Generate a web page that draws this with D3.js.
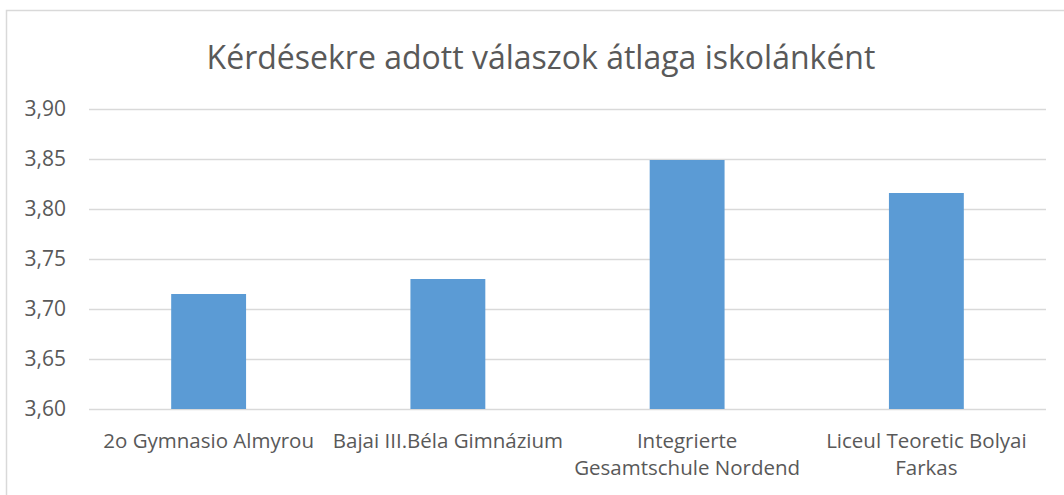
<!DOCTYPE html>
<html>
<head>
<meta charset="utf-8">
<script src="https://cdn.jsdelivr.net/npm/d3@7"></script>
<style>
  body { margin: 0; background: #fff; }
  text { font-family: "Open Sans", sans-serif; fill: #595959; }
</style>
</head>
<body>
<div id="chart"></div>
<script>
// data
let schools = ["2o Gymnasio Almyrou", "Bajai III.Béla Gimnázium", "Integrierte Gesamtschule Nordend", "Liceul Teoretic Bolyai Farkas"];
let schoolLines = [["2o Gymnasio Almyrou"], ["Bajai III.Béla Gimnázium"], ["Integrierte", "Gesamtschule Nordend"], ["Liceul Teoretic Bolyai", "Farkas"]];
let averages = [3.715, 3.730, 3.849, 3.816];
let yTicks = [3.60, 3.65, 3.70, 3.75, 3.80, 3.85, 3.90];
let title = "Kérdésekre adott válaszok átlaga iskolánként";

// dimensions
let W = 1064, H = 495;
let margin = {top: 109, right: 18, bottom: 86, left: 89},
    width = W - margin.left - margin.right,
    height = H - margin.top - margin.bottom;

let svg = d3.select("#chart")
    .append("svg")
    .attr("width", W)
    .attr("height", H);

// chart area border
svg.append("rect")
    .attr("x", 6.5)
    .attr("y", 10.5)
    .attr("width", 1100)
    .attr("height", 600)
    .attr("fill", "none")
    .attr("stroke", "#d9d9d9")
    .attr("stroke-width", 1.5);

svg.append("text")
    .attr("x", 541)
    .attr("y", 69)
    .attr("text-anchor", "middle")
    .style("font-size", "32px")
    .text(title);

let g = svg.append("g")
    .attr("transform", "translate(" + margin.left + "," + margin.top + ")");

// scales
let x = d3.scaleBand()
    .domain(schools)
    .range([0, width])
    .paddingInner(0.687)
    .paddingOuter(0.3435);

let y = d3.scaleLinear()
    .domain([3.60, 3.90])
    .range([height, 0]);

let fmt = d => d3.format(".2f")(d).replace(".", ",");

// gridlines + y labels
let yAxis = g.append("g")
    .call(d3.axisLeft(y).tickValues(yTicks).tickSize(-width).tickPadding(23).tickFormat(fmt));
yAxis.select(".domain").remove();
yAxis.selectAll(".tick line")
    .attr("stroke", "#d9d9d9")
    .attr("stroke-width", 1.5);
yAxis.selectAll(".tick text")
    .style("font-size", "21px")
    .style("font-family", "Open Sans, sans-serif")
    .attr("fill", "#595959");

// bars
g.selectAll(".bar")
    .data(averages)
    .enter()
    .append("rect")
    .attr("class", "bar")
    .attr("x", (d, i) => x(schools[i]))
    .attr("width", x.bandwidth())
    .attr("y", d => y(d))
    .attr("height", d => y(3.60) - y(d))
    .attr("fill", "#5b9bd5");

// category labels
let labels = g.selectAll(".cat")
    .data(schoolLines)
    .enter()
    .append("text")
    .attr("class", "cat")
    .attr("text-anchor", "middle")
    .style("font-size", "20.5px")
    .attr("transform", (d, i) => "translate(" + (x(schools[i]) + x.bandwidth() / 2) + "," + (height + 39) + ")");

labels.selectAll("tspan")
    .data(d => d)
    .enter()
    .append("tspan")
    .attr("x", 0)
    .attr("dy", (d, i) => i == 0 ? 0 : 27)
    .text(d => d);
</script>
</body>
</html>
